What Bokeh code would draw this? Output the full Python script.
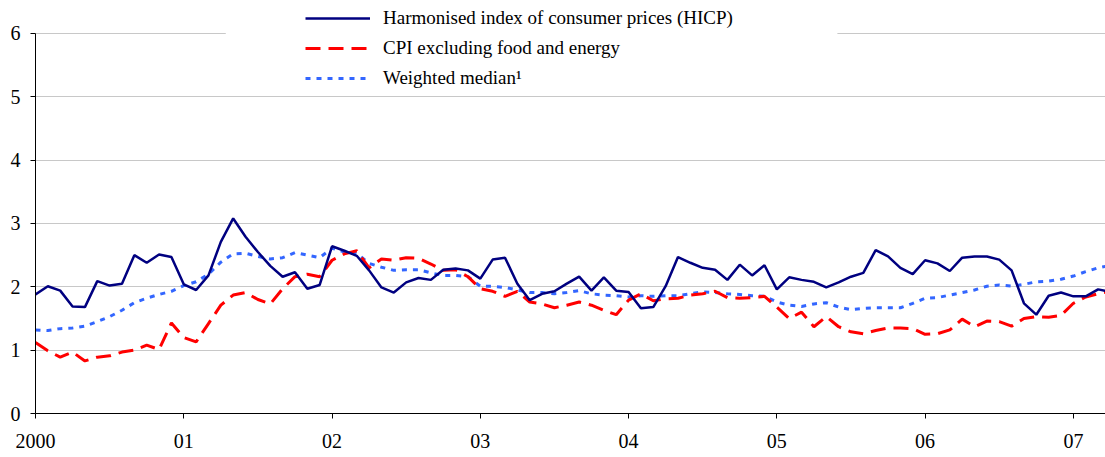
from bokeh.plotting import figure
from bokeh.models import Legend, LegendItem, FixedTicker, BoxAnnotation, Range1d
from bokeh.embed import file_html
from bokeh.resources import INLINE

# Monthly data, Jan 2000 - Apr 2007 (annual % changes); last month only partly shown
hicp = [1.88, 2.01, 1.94, 1.69, 1.68, 2.09, 2.02, 2.05, 2.50, 2.38, 2.51, 2.47,
        2.04, 1.95, 2.18, 2.71, 3.08, 2.79, 2.55, 2.33, 2.16, 2.23, 1.97, 2.03,
        2.64, 2.57, 2.49, 2.26, 1.99, 1.91, 2.07, 2.14, 2.11, 2.27, 2.29, 2.26,
        2.13, 2.43, 2.46, 2.05, 1.79, 1.89, 1.93, 2.05, 2.16, 1.94, 2.15, 1.94,
        1.92, 1.66, 1.68, 2.01, 2.47, 2.38, 2.30, 2.27, 2.11, 2.35, 2.18, 2.34,
        1.96, 2.15, 2.11, 2.08, 1.99, 2.07, 2.16, 2.22, 2.58, 2.48, 2.30, 2.20,
        2.42, 2.37, 2.25, 2.46, 2.48, 2.48, 2.43, 2.26, 1.74, 1.56, 1.86, 1.91,
        1.85, 1.85, 1.96, 1.92]

cpi_ex = [1.12, 0.99, 0.89, 0.97, 0.83, 0.89, 0.91, 0.97, 1.00, 1.08, 1.01, 1.43,
          1.20, 1.13, 1.42, 1.71, 1.87, 1.91, 1.80, 1.73, 1.97, 2.16, 2.20, 2.16,
          2.42, 2.52, 2.57, 2.30, 2.44, 2.42, 2.46, 2.45, 2.36, 2.26, 2.27, 2.16,
          1.97, 1.93, 1.85, 1.93, 1.76, 1.73, 1.67, 1.71, 1.76, 1.71, 1.63, 1.56,
          1.79, 1.89, 1.78, 1.81, 1.82, 1.87, 1.89, 1.93, 1.83, 1.82, 1.83, 1.85,
          1.68, 1.50, 1.60, 1.37, 1.53, 1.37, 1.29, 1.26, 1.31, 1.35, 1.35, 1.34,
          1.25, 1.26, 1.32, 1.49, 1.37, 1.46, 1.45, 1.38, 1.50, 1.53, 1.52, 1.55,
          1.74, 1.84, 1.89, 1.93]

wmedian = [1.32, 1.31, 1.34, 1.35, 1.38, 1.45, 1.53, 1.63, 1.75, 1.82, 1.88, 1.93,
           2.02, 2.08, 2.20, 2.39, 2.52, 2.53, 2.48, 2.44, 2.46, 2.54, 2.50, 2.46,
           2.61, 2.55, 2.53, 2.37, 2.31, 2.26, 2.27, 2.27, 2.22, 2.18, 2.18, 2.16,
           2.01, 2.01, 1.99, 1.95, 1.91, 1.91, 1.89, 1.91, 1.94, 1.89, 1.87, 1.86,
           1.84, 1.86, 1.85, 1.86, 1.86, 1.89, 1.92, 1.91, 1.89, 1.88, 1.86, 1.85,
           1.76, 1.71, 1.69, 1.73, 1.75, 1.68, 1.64, 1.66, 1.67, 1.67, 1.67, 1.74,
           1.82, 1.83, 1.87, 1.91, 1.95, 2.01, 2.03, 2.01, 2.04, 2.08, 2.09, 2.12,
           2.17, 2.24, 2.30, 2.34]

year_ticks = [0, 12, 24, 36, 48, 60, 72, 84]
year_labels = ["2000", "01", "02", "03", "04", "05", "06", "07"]
y_ticks = [0, 1, 2, 3, 4, 5, 6]

labels = ["Harmonised index of consumer prices (HICP)",
          "CPI excluding food and energy",
          "Weighted median\u00b9"]

months = list(range(len(hicp)))

FONT = "Liberation Serif"

# frame reaches the top of the canvas so the legend fits inside it;
# the axis line itself stops at 6
p = figure(width=1105, height=457, output_backend="svg", toolbar_location=None,
           x_range=Range1d(0, 86.6), y_range=Range1d(0, 6.521),
           min_border_left=35, min_border_right=0, min_border_top=0, min_border_bottom=44)
p.outline_line_color = None
p.background_fill_color = "white"
p.border_fill_color = "white"

r_med = p.line(months, wmedian, line_color="#3366FF", line_width=3, line_dash="5 6")
r_cpi = p.line(months, cpi_ex, line_color="#FF0000", line_width=3, line_dash="15 8")
r_hicp = p.line(months, hicp, line_color="#000080", line_width=2.5)

# axes
p.xaxis.ticker = FixedTicker(ticks=year_ticks)
p.xaxis.major_label_overrides = {t: l for t, l in zip(year_ticks, year_labels)}
p.yaxis.ticker = FixedTicker(ticks=y_ticks)
p.yaxis.bounds = (0, 6)
for ax in (p.xaxis, p.yaxis):
    ax.axis_line_color = "black"
    ax.axis_line_width = 1
    ax.major_tick_line_color = "black"
    ax.major_tick_out = 5
    ax.major_tick_in = 0
    ax.minor_tick_line_color = None
    ax.major_label_text_font = FONT
    ax.major_label_text_font_size = "20px"
    ax.major_label_text_color = "black"
p.xaxis.major_label_standoff = 15
p.yaxis.major_label_standoff = 10

p.xgrid.grid_line_color = None
p.ygrid.ticker = FixedTicker(ticks=y_ticks)
p.ygrid.grid_line_color = "#c8c8c8"
p.ygrid.grid_line_width = 1

# white area behind the legend (hides top gridline there)
p.add_layout(BoxAnnotation(left=15.4, right=64.9, bottom=5.5, top=6.6,
                           fill_color="white", fill_alpha=1.0, line_color=None,
                           level="underlay"))

legend = Legend(items=[LegendItem(label=labels[0], renderers=[r_hicp]),
                       LegendItem(label=labels[1], renderers=[r_cpi]),
                       LegendItem(label=labels[2], renderers=[r_med])],
                location=(270, 324), orientation="vertical",
                glyph_width=65, glyph_height=18, label_height=18,
                label_standoff=13, spacing=8, padding=2, margin=0,
                label_text_font=FONT, label_text_font_size="19px",
                label_text_color="black",
                background_fill_color="white", background_fill_alpha=1.0,
                border_line_color=None)
p.add_layout(legend, "center")

open("out.html", "w").write(file_html(p, INLINE))
